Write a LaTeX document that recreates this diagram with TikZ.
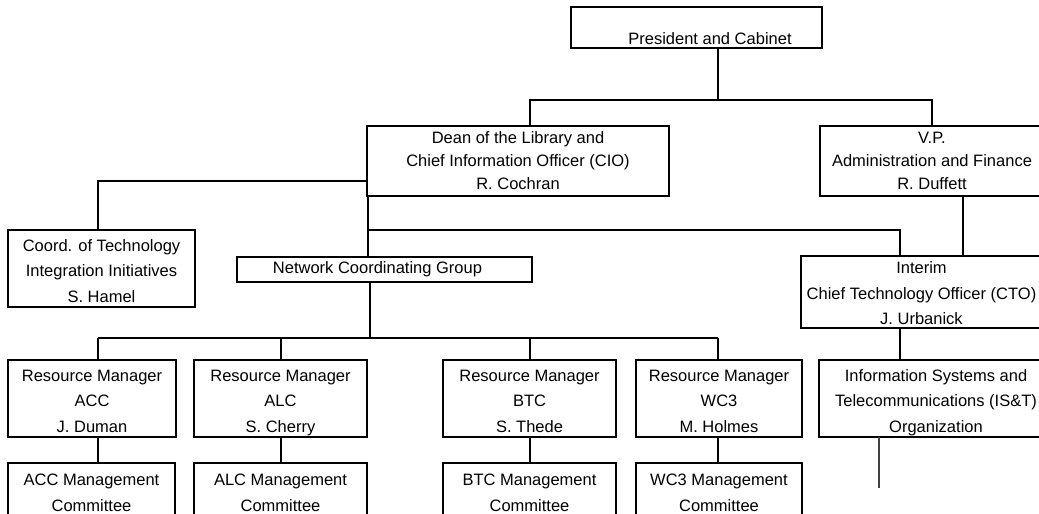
\documentclass[tikz,border=0pt]{standalone}
\usepackage{fontspec}
\setmainfont{Liberation Sans}
\usetikzlibrary{positioning}

\begin{document}
\begin{tikzpicture}[
        x=1pt, y=-1pt,
        every node/.style={inner sep=0pt, outer sep=0pt},
        frame/.style={draw, line width=2.1pt, rectangle, align=center, font=\fontsize{16.5}{25.5}\selectfont},
        box/.style={frame, text depth=0pt, text height=67pt},
        headbox/.style={box, font=\fontsize{16.5}{23}\selectfont, text height=56pt, minimum height=70pt},
        rmbox/.style={box, minimum height=77pt},
        mcbox/.style={box, text height=37.5pt, minimum height=59pt},
        link/.style={draw, line width=2.1pt},
        thinlink/.style={draw, line width=1.3pt, black!75}
    ]

    % Bildrahmen
    \useasboundingbox (0,0) rectangle (1039,514);
    \clip (0,0) rectangle (1039,514);

    % Spitze
    \node[frame, minimum width=251pt, minimum height=41pt, text depth=0pt, text height=33pt] (pres) at (696.5,27.5) {\hspace*{27pt}President and Cabinet};

    % Zweite Ebene
    \node[headbox, minimum width=302pt] (dean) at (518,161) {Dean of the Library and\\Chief Information Officer (CIO)\\R. Cochran};
    \node[headbox, minimum width=224pt] (vp) at (932,161) {V.P.\\Administration and Finance\\R. Duffett};

    % Dritte Ebene
    \node[box, minimum width=187pt, minimum height=77pt] (coord) at (101.5,268.5) {Coord. of Technology\\Integration Initiatives\\S. Hamel};
    \node[frame, minimum width=295pt, minimum height=25pt] (ncg) at (384.5,269.5) {\hspace*{-14pt}Network Coordinating Group};
    \node[box, minimum width=241pt, minimum height=72pt, text height=65pt] (cto) at (921.5,292) {Interim\\Chief Technology Officer (CTO)\\J. Urbanick};

    % Resource Manager
    \node[rmbox, minimum width=168pt] (rmacc) at (92,398.5) {Resource Manager\\ACC\\J. Duman};
    \node[rmbox, minimum width=173pt] (rmalc) at (280.5,398.5) {Resource Manager\\ALC\\S. Cherry};
    \node[rmbox, minimum width=173pt] (rmbtc) at (529.5,398.5) {Resource Manager\\BTC\\S. Thede};
    \node[rmbox, minimum width=166pt] (rmwc3) at (719,398.5) {Resource Manager\\WC3\\M. Holmes};
    \node[rmbox, minimum width=234pt] (ist) at (936,398.5) {Information Systems and\\Telecommunications (IS\&T)\\Organization};

    % Management Committees
    \node[mcbox, minimum width=167pt] (mcacc) at (91.5,492.5) {ACC Management\\Committee};
    \node[mcbox, minimum width=173pt] (mcalc) at (280.5,492.5) {ALC Management\\Committee};
    \node[mcbox, minimum width=173pt] (mcbtc) at (529.5,492.5) {BTC Management\\Committee};
    \node[mcbox, minimum width=166pt] (mcwc3) at (719,492.5) {WC3 Management\\Committee};

    % Verbindungen oben
    \coordinate (topbus) at (718,100);
    \coordinate (deanin) at (530,100);
    \coordinate (vpin) at (932,100);
    \draw[link] (topbus |- pres.south) -- (topbus);
    \draw[link] (deanin |- dean.north) -- (deanin) -- (vpin) -- (vpin |- vp.north);

    % Dean zu Coord., NCG und CTO
    \coordinate (coordin) at (98,181);
    \draw[link] (dean.west |- coordin) -- (coordin) -- (coordin |- coord.north);
    \coordinate (midbus) at (368,230);
    \coordinate (ctoin) at (900,230);
    \draw[link] (midbus |- dean.south) -- (midbus |- ncg.north);
    \draw[link] (midbus) -- (ctoin) -- (ctoin |- cto.north);

    % V.P. zu CTO, CTO zu IS&T
    \coordinate (vpout) at (963,0);
    \draw[link] (vpout |- vp.south) -- (vpout |- cto.north);
    \coordinate (ctoout) at (900,0);
    \draw[link] (ctoout |- cto.south) -- (ctoout |- ist.north);
    \coordinate (istend) at (879,488);
    \draw[thinlink] (istend |- ist.south) -- (istend);

    % NCG zu den Resource Managern
    \coordinate (rmbus) at (370,338);
    \draw[link] (rmbus |- ncg.south) -- (rmbus);
    \coordinate (accbus) at (98,338);
    \coordinate (wc3bus) at (718,338);
    \draw[link] (accbus) -- (wc3bus);
    \foreach \unit/\x in {acc/98, alc/281, btc/530, wc3/718} {
        \coordinate (\unit bus) at (\x,338);
        \draw[link] (\unit bus) -- (\unit bus |- rm\unit.north);
        \draw[link] (\unit bus |- rm\unit.south) -- (\unit bus |- mc\unit.north);
    }

\end{tikzpicture}
\end{document}
